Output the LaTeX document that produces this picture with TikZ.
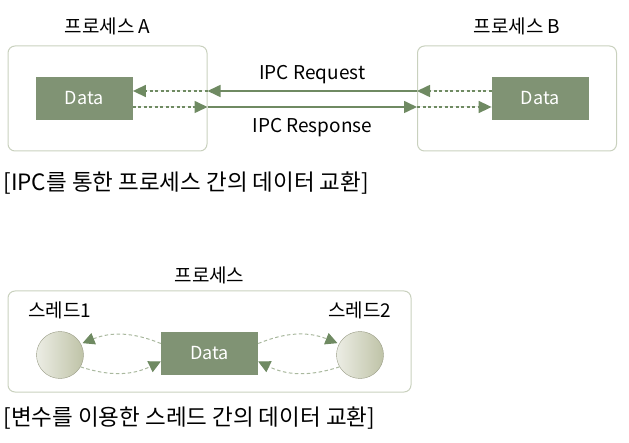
\documentclass[tikz,border=0pt]{standalone}
\usepackage{fontspec}
\setmainfont{Noto Sans CJK KR}
\usetikzlibrary{positioning,arrows.meta}

\definecolor{procline}{HTML}{C9D1BE}
\definecolor{datafill}{HTML}{809374}
\definecolor{arrowgreen}{HTML}{6F8A62}
\definecolor{threadfill}{HTML}{BFC3A7}
\definecolor{dashgreen}{HTML}{A9B89E}

\begin{document}
\begin{tikzpicture}[x=1pt, y=1pt,
	proc/.style={rectangle, rounded corners=7pt, draw=procline, line width=1pt, minimum width=199pt, minimum height=105pt},
	data/.style={rectangle, fill=datafill, text=white, minimum width=97pt, minimum height=43pt, font=\fontsize{18}{18}\selectfont},
	thread/.style={circle, minimum size=47pt, draw=threadfill!80!black, line width=0.4pt, left color=white!70!threadfill, right color=threadfill, shading angle=90},
	title/.style={font=\fontsize{19}{19}\selectfont},
	caption/.style={anchor=west, font=\fontsize{22.5}{22.5}\selectfont},
	ipc/.style={-{Triangle[length=13pt, width=12pt]}, draw=arrowgreen, fill=arrowgreen, line width=1.6pt},
	local/.style={-{Triangle[length=13pt, width=12pt]}, draw=arrowgreen, fill=arrowgreen, line width=1.6pt, dash pattern=on 3pt off 2.5pt},
	share/.style={-{Triangle[length=12pt, width=12pt, color=arrowgreen, fill=arrowgreen]}, draw=dashgreen, line width=1pt, dash pattern=on 3.5pt off 2.5pt}
	]
	\useasboundingbox (0,0) rectangle (629,442);

	% IPC
	\node (procA) [proc] at (107.5,343.5) {};
		\node (dataA) [data, right=28pt of procA.west] {Data};
		\node (nameA) [title, above=7pt of procA] {프로세스 A};
	\node (procB) [proc] at (517,343.5) {};
		\node (dataB) [data, left=28pt of procB.east] {Data};
		\node (nameB) [title, above=7pt of procB] {프로세스 B};

	\draw [local] ([yshift=7.5pt]dataB.west) -- ([yshift=7.5pt]procB.west);
	\draw [ipc] ([yshift=7.5pt]procB.west) -- node (req) [above=3pt, title] {IPC Request} ([yshift=7.5pt]procA.east);
	\draw [local] ([yshift=7.5pt]procA.east) -- ([yshift=7.5pt]dataA.east);

	\draw [local] ([yshift=-8.5pt]dataA.east) -- ([yshift=-8.5pt]procA.east);
	\draw [ipc] ([yshift=-8.5pt]procA.east) -- node (res) [below=7pt, title] {IPC Response} ([yshift=-8.5pt]procB.west);
	\draw [local] ([yshift=-8.5pt]procB.west) -- ([yshift=-8.5pt]dataB.west);

	\node (capA) [caption] at (0,259) {[IPC를 통한 프로세스 간의 데이터 교환]};

	% threads
	\node (proc) [proc, minimum width=403pt, minimum height=101pt] at (209.5,100.5) {};
		\node (name) [title, above=3pt of proc] {프로세스};
		\node (data) [data] at (209.5,88.5) {Data};
		\node (th1) [thread] at (60,87) {};
		\node (th2) [thread] at (360,87) {};
		\node (name1) [title, above=9pt of th1] {스레드1};
		\node (name2) [title, above=9pt of th2] {스레드2};

	\draw [share] ([yshift=10pt]data.west) to[bend right=22] ([xshift=2pt]th1.30);
	\draw [share] (th1.-30) to[bend right=22] ([yshift=-8pt]data.west);
	\draw [share] ([yshift=10pt]data.east) to[bend left=22] ([xshift=-2pt]th2.150);
	\draw [share] (th2.-150) to[bend left=22] ([yshift=-8pt]data.east);

	\node (capB) [caption] at (0,24) {[변수를 이용한 스레드 간의 데이터 교환]};
\end{tikzpicture}
\end{document}
